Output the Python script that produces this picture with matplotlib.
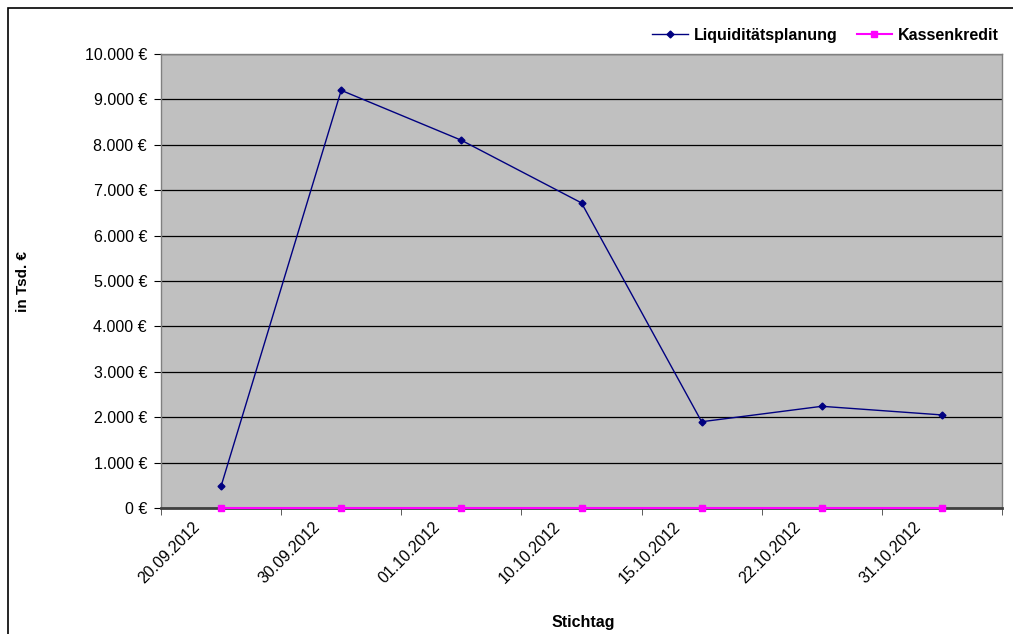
import numpy as np
import matplotlib.pyplot as plt
from matplotlib.patches import Rectangle
from matplotlib.ticker import FuncFormatter
import matplotlib.transforms as mtransforms

plt.rcParams['font.family'] = ['Liberation Sans', 'DejaVu Sans']

# data
dates = ["20.09.2012", "30.09.2012", "01.10.2012", "10.10.2012",
         "15.10.2012", "22.10.2012", "31.10.2012"]
liquiditaet = [480, 9200, 8100, 6720, 1900, 2240, 2050]
kassenkredit = [0, 0, 0, 0, 0, 0, 0]

fig = plt.figure(figsize=(10.13, 6.34), dpi=100)
ax = fig.add_axes([161/1013, 1-508/634, (1002-161)/1013, (508-54)/634])
ax.set_facecolor('#c0c0c0')

x = np.arange(len(dates))
ax.plot(x, liquiditaet, color='#000080', lw=1, marker='D', ms=3.5,
        label='Liquiditätsplanung', zorder=3)
ax.plot(x, kassenkredit, color='#ff00ff', lw=1.5, marker='s', ms=5,
        label='Kassenkredit', zorder=3, clip_on=False)

ax.set_xlim(-0.5, len(dates) - 0.5)
ax.set_ylim(0, 10000)
ax.set_yticks(np.arange(0, 10001, 1000))
ax.yaxis.set_major_formatter(FuncFormatter(lambda v, p: f"{int(v):,} €".replace(',', '.')))
ax.grid(axis='y', color='black', lw=0.9)
ax.set_axisbelow(True)

# category labels at centres, tick marks at boundaries
ax.set_xticks(x)
ax.set_xticklabels(dates, rotation=45, ha='right', va='top', fontsize=11.5)
ax.tick_params(axis='x', which='major', length=0, pad=8)
ax.set_xticks(np.arange(-0.5, len(dates), 1), minor=True)
ax.tick_params(axis='x', which='minor', length=5, direction='out', color='#404040')
ax.tick_params(axis='y', length=5, direction='out', labelsize=11.5, pad=5)
offset = mtransforms.ScaledTranslation(-18/100, 0, fig.dpi_scale_trans)
for lab in ax.get_xticklabels():
    lab.set_transform(lab.get_transform() + offset)

for s in ['top', 'right', 'left']:
    ax.spines[s].set_color('#808080')
    ax.spines[s].set_linewidth(1)
ax.spines['bottom'].set_color('#404040')
ax.spines['bottom'].set_linewidth(2)

ax.set_ylabel('in Tsd. €', fontsize=11, fontweight='bold')
ax.yaxis.set_label_coords(-(161-30)/841, 0.5)
fig.text(583/1013, 1-622/634, 'Stichtag', fontsize=11.5, fontweight='bold',
         ha='center', va='center')

ax.legend(loc='lower right', bbox_to_anchor=(1.01, 1.0), ncol=2, frameon=False,
          prop={'weight': 'bold', 'size': 11.5}, handlelength=2.2,
          columnspacing=1.2, handletextpad=0.4, borderaxespad=0.3)

# chart border
fig.patches.append(Rectangle((8/1013, -0.05), 1.1, 1 - 8/634 + 0.05,
                             transform=fig.transFigure, fill=False,
                             edgecolor='black', lw=1.2))

fig.savefig('out.png', dpi=100)
